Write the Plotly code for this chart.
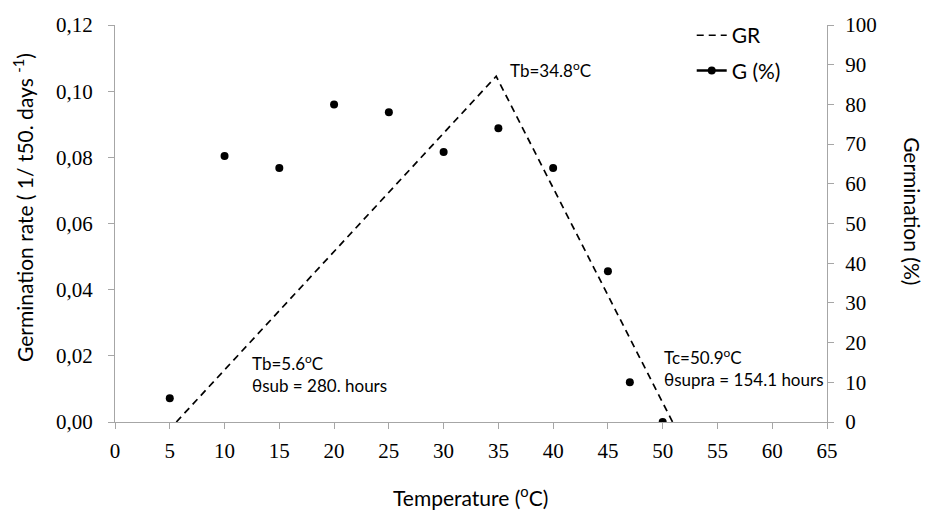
import plotly.graph_objects as go

# Data
temp_g = [5, 10, 15, 20, 25, 30, 35, 40, 45, 47, 50]
germ_pct = [6, 67, 64, 80, 78, 68, 74, 64, 38, 10, 0]

gr_temp = [5.6, 34.8, 50.9]
gr_rate = [0.0, 0.1045, 0.0]

x_ticks = list(range(0, 70, 5))
y_ticks = [0, 0.02, 0.04, 0.06, 0.08, 0.10, 0.12]
y_ticklabels = ["0,00", "0,02", "0,04", "0,06", "0,08", "0,10", "0,12"]
y2_ticks = list(range(0, 110, 10))

serif = "Liberation Serif"
sans = "Lato"

fig = go.Figure()
fig.add_trace(go.Scatter(x=gr_temp, y=gr_rate, mode="lines", name="GR",
                         line=dict(color="black", dash="7px,5px", width=1.7),
                         legendgroup="a"))
fig.add_trace(go.Scatter(x=temp_g, y=germ_pct, mode="markers", name="G (%)",
                         marker=dict(color="black", size=8), yaxis="y2",
                         showlegend=False))
fig.add_trace(go.Scatter(x=[None], y=[None], mode="lines+markers", name="G (%)",
                         line=dict(color="black", width=2.5),
                         marker=dict(color="black", size=8), yaxis="y2",
                         legendgroup="b"))

axis_common = dict(showgrid=False, zeroline=False, showline=True,
                   linecolor="#a6a6a6", linewidth=1.3, ticks="outside",
                   ticklen=6, tickcolor="#a6a6a6", automargin=False,
                   tickfont=dict(family=serif, size=21, color="black"))

fig.update_layout(
    width=925, height=511,
    margin=dict(l=115, r=98, t=25, b=89),
    plot_bgcolor="white", paper_bgcolor="white",
    xaxis=dict(range=[0, 65], tickvals=x_ticks, ticklabelstandoff=4,
               **axis_common),
    yaxis=dict(range=[0, 0.12], tickvals=y_ticks, ticktext=y_ticklabels,
               ticklabelstandoff=11, **axis_common),
    yaxis2=dict(range=[0, 100], tickvals=y2_ticks, overlaying="y", side="right",
                ticklabelstandoff=7, **axis_common),
    legend=dict(x=0.81, y=1.025, xanchor="left", yanchor="top",
                font=dict(family=sans, size=21, color="black"),
                bgcolor="rgba(0,0,0,0)", tracegroupgap=5,
                traceorder="grouped"),
    showlegend=True,
)

title_font = dict(family=sans, size=21, color="black")
fig.add_annotation(x=0.499, y=-0.187, xref="paper", yref="paper",
                   text="Temperature (<sup>o</sup>C)", showarrow=False,
                   font=title_font, xanchor="center", yanchor="middle")
fig.add_annotation(x=1.12, y=0.53, xref="paper", yref="paper",
                   text="Germination (%)", textangle=90, showarrow=False,
                   xanchor="center", yanchor="middle", font=title_font)
fig.add_annotation(x=-0.13, y=0.54, xref="paper", yref="paper",
                   text="Germination rate ( 1/ t50. days <sup>-1</sup>)",
                   textangle=-90, showarrow=False, xanchor="center",
                   yanchor="middle", font=title_font)

ann_font = dict(family=sans, size=17, color="black")
fig.add_annotation(x=35.9, y=0.1067, text="Tb=34.8<sup>o</sup>C", showarrow=False,
                   xanchor="left", yanchor="middle", font=ann_font)
fig.add_annotation(x=12.3, y=0.0148, text="Tb=5.6<sup>o</sup>C<br>θsub = 280. hours",
                   showarrow=False, xanchor="left", yanchor="middle",
                   align="left", font=ann_font)
fig.add_annotation(x=49.9, y=0.0166,
                   text="Tc=50.9<sup>o</sup>C<br>θsupra = 154.1 hours",
                   showarrow=False, xanchor="left", yanchor="middle",
                   align="left", font=ann_font)

fig.write_html("out.html", config={"displayModeBar": False},
               post_script="document.body.style.margin='0px';")
